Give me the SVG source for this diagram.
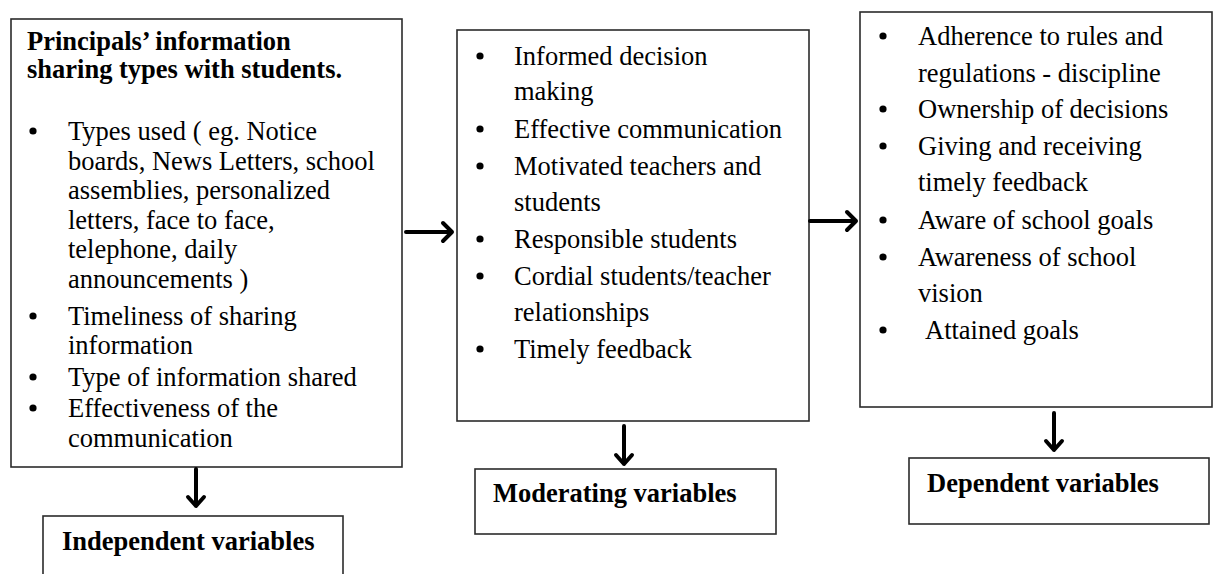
<svg xmlns="http://www.w3.org/2000/svg" width="1215" height="574" viewBox="0 0 1215 574">
<style>
.box{fill:#fff;stroke:#2b2b2b;stroke-width:1.6}
.t{font-family:"Liberation Serif","Times New Roman",serif;font-size:26.5px;fill:#000}
.b{font-weight:bold}
.dot{fill:#000}
.arr{fill:none;stroke:#000;stroke-width:4;stroke-linecap:round;stroke-linejoin:round}
</style>
<rect width="1215" height="574" fill="#fff"/>
<g id="independent-box">
<rect class="box" x="11" y="19" width="391" height="448"/>
<text class="t b" x="27" y="50">Principals’ information</text>
<text class="t b" x="27" y="78">sharing types with students.</text>
<circle class="dot" cx="33" cy="131" r="3.6"/>
<text class="t" x="68" y="140">Types used ( eg. Notice</text>
<text class="t" x="68" y="170">boards, News Letters, school</text>
<text class="t" x="68" y="199">assemblies, personalized</text>
<text class="t" x="68" y="229">letters, face to face,</text>
<text class="t" x="68" y="258">telephone, daily</text>
<text class="t" x="68" y="288">announcements )</text>
<circle class="dot" cx="33" cy="316" r="3.6"/>
<text class="t" x="68" y="325">Timeliness of sharing</text>
<text class="t" x="68" y="354">information</text>
<circle class="dot" cx="33" cy="377" r="3.6"/>
<text class="t" x="68" y="386">Type of information shared</text>
<circle class="dot" cx="33" cy="408" r="3.6"/>
<text class="t" x="68" y="417">Effectiveness of the</text>
<text class="t" x="68" y="447">communication</text>
</g>
<g id="independent-label">
<rect class="box" x="43" y="516" width="300" height="70"/>
<text class="t b" x="62" y="550">Independent variables</text>
</g>
<g id="moderating-box">
<rect class="box" x="457" y="30" width="352" height="391"/>
<circle class="dot" cx="480" cy="56" r="3.6"/>
<text class="t" x="514" y="65">Informed decision</text>
<text class="t" x="514" y="100">making</text>
<circle class="dot" cx="480" cy="129" r="3.6"/>
<text class="t" x="514" y="138">Effective communication</text>
<circle class="dot" cx="480" cy="166" r="3.6"/>
<text class="t" x="514" y="175">Motivated teachers and</text>
<text class="t" x="514" y="211">students</text>
<circle class="dot" cx="480" cy="239" r="3.6"/>
<text class="t" x="514" y="248">Responsible students</text>
<circle class="dot" cx="480" cy="276" r="3.6"/>
<text class="t" x="514" y="285">Cordial students/teacher</text>
<text class="t" x="514" y="321">relationships</text>
<circle class="dot" cx="480" cy="349" r="3.6"/>
<text class="t" x="514" y="358">Timely feedback</text>
</g>
<g id="moderating-label">
<rect class="box" x="475" y="469" width="301" height="65"/>
<text class="t b" x="493" y="502">Moderating variables</text>
</g>
<g id="dependent-box">
<rect class="box" x="860" y="12" width="352" height="395"/>
<circle class="dot" cx="883" cy="36" r="3.6"/>
<text class="t" x="918" y="45">Adherence to rules and</text>
<text class="t" x="918" y="82">regulations - discipline</text>
<circle class="dot" cx="883" cy="109" r="3.6"/>
<text class="t" x="918" y="118">Ownership of decisions</text>
<circle class="dot" cx="883" cy="146" r="3.6"/>
<text class="t" x="918" y="155">Giving and receiving</text>
<text class="t" x="918" y="191">timely feedback</text>
<circle class="dot" cx="883" cy="220" r="3.6"/>
<text class="t" x="918" y="229">Aware of school goals</text>
<circle class="dot" cx="883" cy="257" r="3.6"/>
<text class="t" x="918" y="266">Awareness of school</text>
<text class="t" x="918" y="302">vision</text>
<circle class="dot" cx="883" cy="330" r="3.6"/>
<text class="t" x="925" y="339">Attained goals</text>
</g>
<g id="dependent-label">
<rect class="box" x="909" y="458" width="300" height="66"/>
<text class="t b" x="927" y="492">Dependent variables</text>
</g>
<g id="connectors">
<path class="arr" d="M406 232 H452 M443 223 L452 232 L443 241"/>
<path class="arr" d="M810 221 H856 M847 212 L856 221 L847 230"/>
<path class="arr" d="M196 469 V506 M188 497 L196 506 L204 497"/>
<path class="arr" d="M624 426 V464 M616 455 L624 464 L632 455"/>
<path class="arr" d="M1054 413 V450 M1046 441 L1054 450 L1062 441"/>
</g>
</svg>
